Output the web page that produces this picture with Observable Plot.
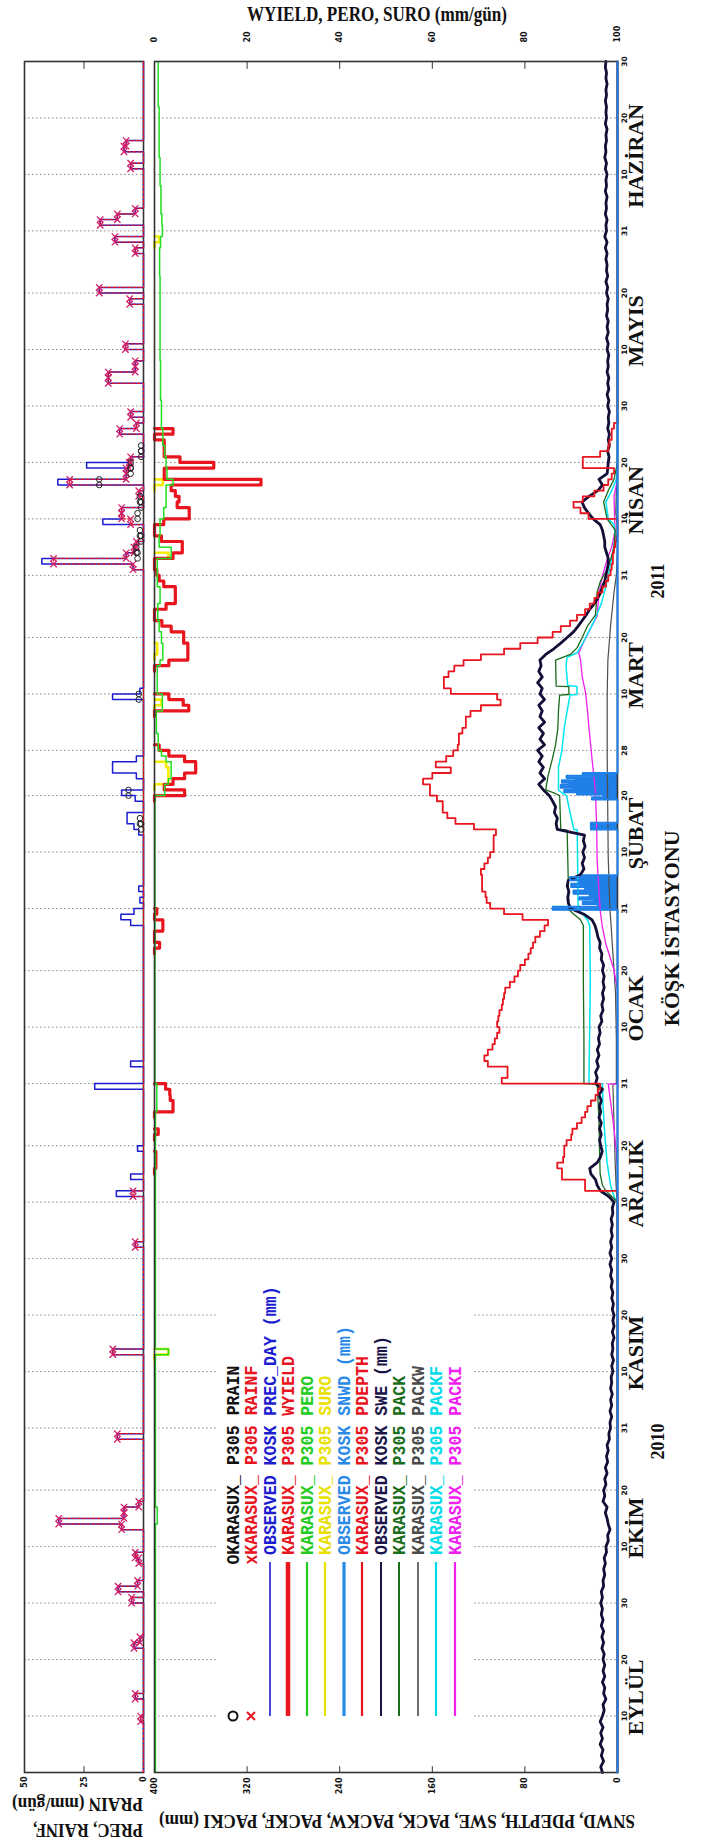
<!DOCTYPE html>
<html><head><meta charset="utf-8">
<script src="https://cdn.jsdelivr.net/npm/d3@7"></script>
<script src="https://cdn.jsdelivr.net/npm/@observablehq/plot@0.6"></script>
<style>
html,body{margin:0;padding:0;background:#fff;width:705px;height:1841px;overflow:hidden}
#land{position:absolute;left:0;top:0;width:1841px;height:705px;transform-origin:0 0;transform:translate(0px,1841px) rotate(-90deg);background:#fff}
#land > svg{position:absolute;left:0;top:0;overflow:visible}
</style></head><body>
<div id="land"></div>
<script>
// ---------- categories / ticks ----------
const monthNames = ["EYLÜL","EKİM","KASIM","ARALIK","OCAK","ŞUBAT","MART","NİSAN","MAYIS","HAZİRAN"];
const monthStart = [0,30,61,91,122,153,181,212,242,273];
const tickDays = [10,20,30,40,50,61,71,81,91,101,111,122,132,142,153,163,173,181,191,201,212,222,232,242,252,262,273,283,293,303];
const tickLabels = ["10","20","30","10","20","31","10","20","30","10","20","31","10","20","31","10","20","28","10","20","31","10","20","30","10","20","31","10","20","30"];
const yearLabels = ["2010","2011"];
const stationLabel = "KÖŞK İSTASYONU";
const mmTicks = [0,80,160,240,320,400];
const precTicks = [0,25,50];

// ---------- top panel series (mm/gün), [day, value] ----------
const precObs = [[9,1.2],[13,3.5],[22,4],[23,1.5],[30,5],[32,10.7],[33,2.5],[37,2],[38,3.5],[43,9.2],[44,35.6],[45,8.2],[46,8.2],[47,2],[59,11],[74,12.9],[93,3.5],[102,11.4],[105,5.4],[110,2.5],[121,20.5],[125,5.4],[150,5.4],[151,9.5],[152,4],[154,1.5],[156,2],[166,2],[167,4],[168,6.9],[169,6.9],[172,3.5],[173,9.2],[176,3],[177,13],[178,13],[179,3],[190,13],[191,1.5],[213,4.4],[214,42.7],[215,7.3],[216,4],[217,3],[221,17.1],[222,9.2],[223,9.2],[226,2],[228,36],[229,7.3],[230,7.3],[231,23.9],[232,5.4],[237,10],[238,3],[240,5.4],[246,14.8],[247,14.8],[248,3.5],[249,3.5],[252,7.6],[260,5.8],[262,18.6],[269,3.5],[271,12],[274,18.2],[275,11],[276,3.5],[284,5.4],[287,8.2],[288,7.3]];
const rainf = [[9,1.2],[13,3.5],[22,4],[23,1.5],[30,5],[32,10.7],[33,2.5],[37,2],[38,3.5],[43,9.2],[44,35.6],[45,8.2],[46,8.2],[47,2],[59,11],[74,12.9],[93,3.5],[102,4.4],[213,4.4],[214,37.8],[215,7.3],[216,4],[217,3],[221,5.4],[222,9.2],[223,9.2],[226,2],[228,31],[229,7.3],[230,7.3],[231,6],[232,5.4],[237,10],[238,3],[240,5.4],[246,14.8],[247,14.8],[248,3.5],[249,3.5],[252,7.6],[260,5.8],[262,18.6],[269,3.5],[271,12],[274,18.2],[275,11],[276,3.5],[284,5.4],[287,8.2],[288,7.3]];
const prain = [[167,1],[168,1.5],[173,6.3],[190,2],[215,2.5],[216,3],[218,1],[219,1.5],[222,2.5],[224,1],[225,1.5],[228,18.6],[230,5.4],[231,5.4],[233,1],[234,1]];

// ---------- main panel, right axis (mm/gün) ----------
const wyield = [[107,0.3],[108,0.3],[109,0.3],[113,0.8],[117,4.0],[118,4.0],[119,3.4],[120,3.3],[121,2.4],[146,1.1],[149,1.8],[150,1.8],[152,0.5],[173,6.5],[174,2.1],[175,4.0],[176,6.5],[177,8.9],[178,8.9],[179,6.5],[180,3.1],[181,1.0],[188,7.4],[189,6.2],[190,3.1],[196,3.1],[197,7.2],[198,7.2],[199,7.2],[200,6.3],[201,6.3],[202,3.6],[203,1.6],[206,2.5],[207,4.5],[208,4.5],[209,4.5],[210,2.0],[211,1.0],[212,0.5],[215,4.0],[216,6.0],[217,6.0],[218,1.5],[221,2.0],[222,7.5],[223,7.5],[224,4.9],[225,5.3],[226,4.5],[227,3.6],[228,23],[229,2.1],[230,2.1],[231,12.8],[232,5.5],[233,2.1],[234,2.1],[235,2.1],[237,4.0]];
const suro = [[74,3],[175,3],[176,3],[177,3],[178,2.5],[189,1.5],[198,0.6],[199,0.6],[215,3],[228,1.8],[271,1]];
const pero = [[0,0.2],[44,0.6],[47,0.2],[74,3],[75,0.2],[117,0.5],[122,0.1],[173,2.2],[175,3],[176,3.6],[179,2.5],[180,1.5],[181,0.8],[184,0.4],[188,1.7],[191,0.6],[196,1.2],[197,1.8],[200,1.5],[202,1.0],[204,0.7],[207,1.2],[210,0.6],[215,3.6],[217,1.0],[219,1.2],[222,2.0],[224,2.5],[228,4.0],[229,2.7],[231,2.5],[233,2.2],[235,1.8],[238,1.5],[243,1.3],[250,1.2],[258,1.2],[265,1.1],[270,1.3],[272,1.7],[274,1.6],[276,1.4],[281,1.2],[286,1.0],[295,0.8],[303,0.8]];

// ---------- main panel, left axis (mm) ----------
const pdepthStart = 103;
const pdepth = [28,28,48,48,52,47,46,46,44,40,
 39,35,31,28,26,23,19,17,15,100,
 95,95,112,115,112,108,106,104,102,104,
 103,102,100,99,98,97,93,89,86,84,
 80,77,75,73,71,67,63,60,82,98,
 110,113,114,117,117,117,118,115,112,110,
 107,107,107,105,124,140,147,151,151,156,
 162,162,168,160,144,157,148,142,138,137,
 137,134,131,131,127,118,101,104,144,150,
 150,146,141,133,118,98,84,69,56,49,
 41,35,28,24,20,17,13,10,8,6,
 5,4,4,3,2,1,0,0,0,25,
 32,38,30,20,12,8,5,3,30,30,
 15,8,7,5,5,3];
const swe = [13,14.5,12,14,12.5,15,13,14.5,12.5,15,
 13,11.5,12.5,10,12,11,13,11,12.5,11,
 12.5,11.5,13.5,12,13.5,12,14,12.5,14,13,
 14.5,13,14,12,12.5,11,12,10.5,11.5,9.5,
 10,8,8.5,6.5,8,9,10.5,9,12.5,11,
 12,10,11,9,10.5,8.5,9.5,8,9,7,
 7.5,6,6.5,5,6.5,5,6,4.5,6,5,
 5.5,4,5,3.5,5,4,4.5,3,4.5,3,
 4,3,4.5,3.5,5,4,5.5,4.5,6,5,
 6.5,5,6.5,5,6,4.5,5.5,4.5,5.5,4,
 4.5,3,7.5,14.7,17.6,19,23,24,17.6,14.7,
 13.2,14.5,15.5,14,15.5,14,16,14.5,15.5,14,
 16,13,19,17.5,19,16.5,18,16,17.5,15.5,
 16.5,15,16,13.5,14.5,12.5,13.5,12,13,11.5,
 12.5,11.5,13,12,14,13.5,15.5,15,17,18,
 19.5,22,29,40.6,42.5,43,42,43.5,42.5,32,
 29,30.5,28.5,30,28,29.5,28.5,52,53,52,
 54.5,53.5,56,59,64,68,63,67,64,68,
 65,69,63,67,64,68,63,67,65,68,
 63,67,65,69,65,68,66,67,62,55,
 49,43.5,38,34,30.5,27,24,20,17,14.5,
 13,11,10,9,8,8,9.5,11,11,12,
 13,15,21,25,28.6,30.6,24.7,17,13,16,
 9,8.4,8,7.3,8.5,7,8,7,8.5,7.5,
 8,7,8.5,7.5,9,7.5,8.5,7.5,9,8,
 8.5,7.5,9,8,9.5,8,9,8,9.5,8.5,
 9,8,9.5,8.5,10,8.5,9.5,9,10,9,
 10.5,9,11,9.5,10,9,10.5,9.5,10,9,
 10.5,9.5,10,9,10.5,9.5,11,10,10.5,9.5,
 10,9,10.5,9.5,10,9.5,10.5,9.5,10,9,
 10,9.5,10.5,10];
const snwd = [[0,0],[152.8,56],[153.3,17],[153.8,30],[154.2,20],[154.6,33],[155,24],[155.6,38],[156.2,28],[156.8,40],[157.4,33],[158,41],[158.6,30],[158.9,0],[167,23],[168.2,0],[172.3,22],[172.7,12],[173.2,35],[173.6,46],[174,38],[174.4,49],[174.9,42],[175.3,48],[175.7,36],[176.1,44],[176.5,20],[176.8,30],[177,0],[303,0]];
const pack = [[0,0],[101,0],[102,5],[103,10],[104,13],[106,15],[110,15.5],[115,16],[120,17],[121.9,17.5],[122,29],[130,29],[140,29.5],[150,29.5],[151,32],[152,37.7],[152.8,42],[166.9,43.5],[167,49],[173,50],[173.5,55],[174,62],[176.5,60],[179.4,56.4],[182,53.5],[185,51.5],[188,51],[190.8,50],[190.9,42],[192.3,42],[192.4,53],[197,53.5],[198,40.6],[199.2,34.8],[201,30.5],[203,26],[205,19],[209,17.6],[211,14.7],[213,9],[214.8,6],[217,3],[220,2],[222,9],[225,12],[227,8],[229,3],[232,0],[303,0]];
const packf = [[0,0],[101,0],[102,3],[104,6],[108,9],[113,11],[118,12.5],[121.9,13],[122,24.7],[140,23.5],[150,24],[151,26],[152,30],[152.8,34],[166.9,34.8],[167,37.7],[170,41],[173,44],[173.5,48],[174,51],[178,51],[181,48],[185,46],[188,43.5],[190.8,41],[190.9,35],[192.3,35],[192.5,43],[196,44.5],[197.5,43.5],[198.3,34.8],[200,30],[202,25],[204,20],[207,14],[210,10],[213,7],[216,4],[219,2],[221,3],[222,8],[225,10],[227,5],[229,1],[231,0],[303,0]];
const packi = [[0,0],[107,0],[110,1],[114,3],[118,5.5],[121.9,8],[122,0],[138.5,0],[142.1,3],[146.9,10.3],[149.9,13.2],[152.2,14.7],[155.8,16],[161.7,17.6],[167.6,18],[173.5,19],[176.4,20.4],[179.4,22],[182.3,23.3],[185.3,24.8],[188.2,26],[191.2,27.6],[194.1,30.5],[197.1,32],[198.3,33.5],[200.9,27.6],[204.8,17.6],[208.9,16],[211.9,13],[214.8,9],[217,5],[220,2],[222,2.5],[226,3],[229,0],[303,0]];
const packw = [[0,0],[101,0],[103,1],[108,2],[115,3],[121.9,4],[122,1],[130,1],[138,1.7],[147,4.6],[150,5.5],[153,6.6],[162,8],[180,8.9],[191,8.9],[197,8.3],[203,6],[209,3],[212,1],[216,0],[221,0],[223,1.5],[227,1],[229,0],[303,0]];

// ---------- legend ----------
const legendLabels = ["OKARASUX_ P305 PRAIN","xKARASUX_ P305 RAINF","OBSERVED KOSK PREC_DAY (mm)","KARASUX_ P305 WYIELD","KARASUX_ P305 PERO","KARASUX_ P305 SURO","OBSERVED KOSK SNWD (mm)","KARASUX_ P305 PDEPTH","OBSERVED KOSK SWE (mm)","KARASUX_ P305 PACK","KARASUX_ P305 PACKW","KARASUX_ P305 PACKF","KARASUX_ P305 PACKI"];

// ---------- build tables ----------
const N = 303;
function daily(pairs){const a=Array.from({length:N+1},(_,d)=>({d,v:0}));for(const [d,v] of pairs)a[d].v=v;return a;}
function runs(pairs){const a=daily(pairs);return a.map((p,i)=>({d:p.d,v:(p.v>0||(a[i-1]&&a[i-1].v>0)||(a[i+1]&&a[i+1].v>0))?p.v:NaN}));}
function verts(pairs){const o=[];for(const [d,v] of pairs){if(v>0){o.push({d,v});o.push({d:d+1,v});}}return o;}
const toRight = v => 400 - 4*v; // right axis (0 at top .. 100 at bottom) onto the mm scale
const precT = daily(precObs), rainT = daily(rainf), wyT = runs(wyield), suroT = runs(suro);
const peroT = pero.map(([d,v])=>({d,v}));
const pdT = Array.from({length:N+1},(_,d)=>({d,v:(d>=pdepthStart&&d<pdepthStart+pdepth.length)?pdepth[d-pdepthStart]:0}));
const sweT = swe.map((v,d)=>({d,v}));
const P = a => a.map(([d,v])=>({d,v}));
const tickFmt = new Map(tickDays.map((d,i)=>[d,tickLabels[i]]));

const W = 1841, H = 705;
const plotStyle = {background:"transparent",fontFamily:"DejaVu Sans",fontSize:"8px",fontWeight:"bold",color:"#111",overflow:"visible"};
const grid = Plot.ruleX(tickDays,{stroke:"#8c8c8c",strokeWidth:1,strokeDasharray:"1.6,2.4"});
const land = document.getElementById("land");

const topPlot = Plot.plot({
  width:W,height:H,marginLeft:68,marginRight:62,marginTop:24,marginBottom:H-143,
  style:plotStyle,
  x:{domain:[0,N],axis:null},
  y:{domain:[0,50]},
  marks:[
    grid,
    Plot.frame({stroke:"#333",strokeWidth:1.6}),
    Plot.ruleY([25],{x1:0,x2:1.2,stroke:"#333"}),
    Plot.ruleY([25],{x1:N,x2:N-1.2,stroke:"#333"}),
    Plot.line(precT,{x:"d",y:"v",curve:"step-after",stroke:"#1c1cd0",strokeWidth:1.5}),
    Plot.line(rainT,{x:"d",y:"v",curve:"step-after",stroke:"#e8141e",strokeWidth:1.2,strokeDasharray:"3,2"}),
    Plot.dot(verts(rainf),{x:"d",y:"v",symbol:"times",r:3,stroke:"#d0206a",strokeWidth:1.3}),
    Plot.dot(verts(prain),{x:"d",y:"v",symbol:"circle",r:2.8,stroke:"#222",strokeWidth:1,fill:"none"}),
    Plot.axisY({ticks:precTicks,tickSize:0,tickPadding:4,fontSize:8,label:null})
  ]
});
land.appendChild(topPlot);

const mainPlot = Plot.plot({
  width:W,height:H,marginLeft:68,marginRight:62,marginTop:154,marginBottom:H-617,
  style:plotStyle,
  x:{domain:[0,N]},
  y:{domain:[0,400]},
  marks:[
    grid,
    Plot.ruleY([80,160,240,320],{x1:0,x2:1.2,stroke:"#333"}),
    Plot.ruleY([80,160,240,320],{x1:N,x2:N-1.2,stroke:"#333"}),
    Plot.areaY(P(snwd),{x:"d",y:"v",curve:"step-after",fill:"#1f80e8"}),
    Plot.line(P(packw),{x:"d",y:"v",stroke:"#4d4d4d",strokeWidth:1.2}),
    Plot.line(P(packi),{x:"d",y:"v",stroke:"#f01ef0",strokeWidth:1.3}),
    Plot.line(P(packf),{x:"d",y:"v",stroke:"#00e6f0",strokeWidth:1.5}),
    Plot.line(P(pack),{x:"d",y:"v",stroke:"#1b6a1b",strokeWidth:1.3}),
    Plot.line(sweT,{x:"d",y:"v",stroke:"#120e38",strokeWidth:2.8}),
    Plot.line(pdT,{x:"d",y:"v",curve:"step-after",stroke:"#e8141e",strokeWidth:1.8}),
    Plot.line(suroT,{x:"d",y:d=>toRight(d.v),curve:"step-after",stroke:"#f4ee00",strokeWidth:2.6}),
    Plot.line(wyT,{x:"d",y:d=>toRight(d.v),curve:"step-after",stroke:"#e8141e",strokeWidth:3.2}),
    Plot.line(peroT,{x:"d",y:d=>toRight(d.v),curve:"step-after",stroke:"#22dd22",strokeWidth:1.5}),
    Plot.frame({stroke:"#333",strokeWidth:1.6}),
    Plot.line(P(snwd),{x:"d",y:"v",curve:"step-after",stroke:"#1f80e8",strokeWidth:2}),
    Plot.axisY({ticks:mmTicks,anchor:"left",tickSize:0,tickPadding:5,fontSize:8,label:null}),
    Plot.axisY({ticks:mmTicks,anchor:"right",tickSize:0,tickPadding:19,fontSize:8,label:null,tickFormat:v=>String((400-v)/4),textAnchor:"start"}),
    Plot.axisX({ticks:tickDays,anchor:"bottom",tickSize:0,tickPadding:4,fontSize:7.5,label:null,tickFormat:d=>tickFmt.get(d)}),
    Plot.text(monthNames.map((m,i)=>({m,d:monthStart[i]+13.3})),{x:"d",text:"m",frameAnchor:"bottom",dy:25,fontSize:22,fontWeight:"bold",fontFamily:"Liberation Serif",fill:"#111"}),
    Plot.text([{t:yearLabels[0],d:58.6},{t:yearLabels[1],d:211}],{x:"d",text:"t",frameAnchor:"bottom",dy:46,fontSize:18,fontWeight:"bold",fontFamily:"Liberation Serif",fill:"#111"}),
    Plot.text([{t:stationLabel,d:149.5}],{x:"d",text:"t",frameAnchor:"bottom",dy:61,fontSize:22,fontWeight:"bold",fontFamily:"Liberation Serif",fill:"#111"})
  ]
});
land.appendChild(mainPlot);

// ---------- overlay: legend and axis titles ----------
const svg = d3.select(land).append("svg").attr("width",W).attr("height",H);
const lg = svg.append("g");
lg.append("rect").attr("x",100).attr("y",218).attr("width",472).attr("height",255).attr("fill","#fff");
const rowY = [233,251,270,288,307,325,344,362,381,399,418,436,455];
const lcol = ["#111","#e8141e","#1c1cd0","#e8141e","#22cc22","#e8e000","#2a8ae8","#e8141e","#1a1448","#1b6e1b","#4a4a4a","#00dde8","#f020f0"];
const lwid = [0,0,1.6,4.5,2.2,2.2,3.2,2.2,2,2,1.6,2.2,2.2];
legendLabels.forEach((t,i)=>{
  const y=rowY[i];
  if(lwid[i]>0) lg.append("line").attr("x1",125).attr("x2",279).attr("y1",y).attr("y2",y).attr("stroke",lcol[i]).attr("stroke-width",lwid[i]);
  const x0 = i<2 ? 276.4 : 286;
  lg.append("text").attr("x",x0).attr("y",y+6).text(t).attr("fill",lcol[i])
    .attr("font-family","Liberation Mono").attr("font-weight","bold").attr("font-size",18)
    .attr("textLength",t.length*9.95).attr("lengthAdjust","spacingAndGlyphs");
});
lg.append("circle").attr("cx",125).attr("cy",rowY[0]).attr("r",4.5).attr("fill","none").attr("stroke","#111").attr("stroke-width",2);
lg.append("path").attr("d",`M121,${rowY[1]-4}L129,${rowY[1]+4}M121,${rowY[1]+4}L129,${rowY[1]-4}`).attr("stroke","#e8141e").attr("stroke-width",2);

function label(txt,x,y,rot,anchor,size,len){
  const t=svg.append("text").attr("transform",`translate(${x},${y}) rotate(${rot})`).attr("text-anchor",anchor)
    .attr("font-family","Liberation Serif").attr("font-weight","bold").attr("font-size",size).attr("fill","#111").text(txt);
  if(len) t.attr("textLength",len).attr("lengthAdjust","spacingAndGlyphs");
}
label("WYIELD, PERO, SURO (mm/gün)",1820,377,90,"middle",21,260);
label("SNWD, PDEPTH, SWE, PACK, PACKW, PACKF, PACKI (mm)",26,397,-90,"middle",19,476);
label("PREC, RAINF,",17,143,-90,"start",18,110);
label("PRAIN (mm/gün)",43,143,-90,"start",18,131);
</script></body></html>
